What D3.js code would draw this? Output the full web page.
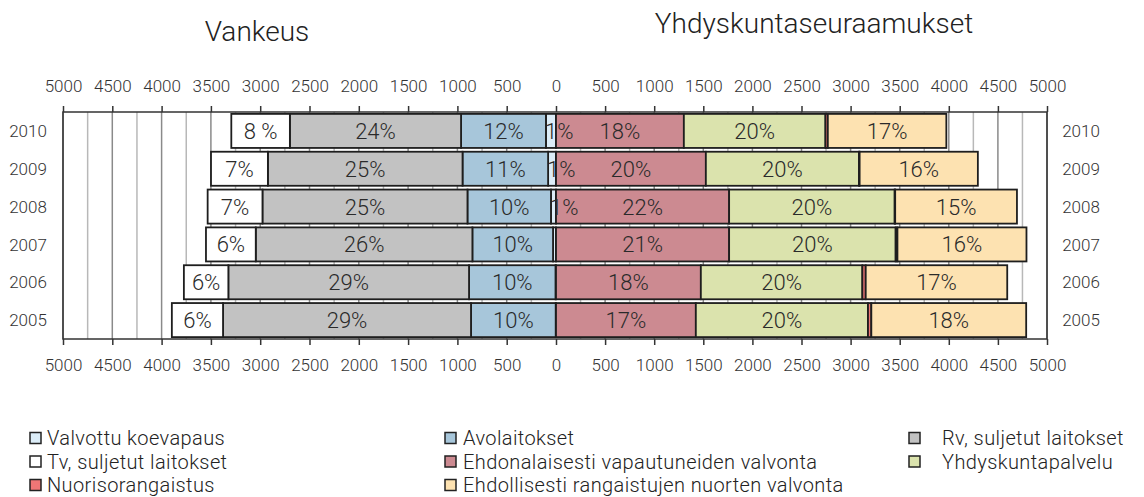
<!DOCTYPE html>
<html>
<head>
<meta charset="utf-8">
<script src="https://cdn.jsdelivr.net/npm/d3@7"></script>
<style>
  body { margin: 0; background: #fff; }
  text { font-family: Roboto, "DejaVu Sans", sans-serif; font-weight: 300; fill: #222; }
</style>
</head>
<body>
<div id="chart"></div>
<script>
// years, top row first
const years = [2010, 2009, 2008, 2007, 2006, 2005];

// Vankeus (left side, from 0 outward)
const valvottu = [102, 80, 51, 30, 5, 3];
const avo      = [861, 868, 847, 818, 877, 859];
const rv       = [1736, 1974, 2079, 2197, 2441, 2515];
const tv       = [594, 577, 556, 505, 451, 519];

// Yhdyskuntaseuraamukset (right side, from 0 outward)
const ehdon   = [1302, 1526, 1763, 1763, 1475, 1424];
const yhdys   = [1442, 1560, 1686, 1696, 1645, 1753];
const nuoriso = [24, 6, 5, 18, 34, 34];
const ehdoll  = [1207, 1204, 1240, 1314, 1441, 1577];

// printed percent labels
const valvottuLab = ["1%", "1%", "1%", "", "", ""];
const avoLab      = ["12%", "11%", "10%", "10%", "10%", "10%"];
const rvLab       = ["24%", "25%", "25%", "26%", "29%", "29%"];
const tvLab       = ["8 %", "7%", "7%", "6%", "6%", "6%"];
const ehdonLab    = ["18%", "20%", "22%", "21%", "18%", "17%"];
const yhdysLab    = ["20%", "20%", "20%", "20%", "20%", "20%"];
const nuorisoLab  = ["", "", "", "", "", ""];
const ehdollLab   = ["17%", "16%", "15%", "16%", "17%", "18%"];

const tickVals = [0, 500, 1000, 1500, 2000, 2500, 3000, 3500, 4000, 4500, 5000];

const leftSeries = [
  {key: "Valvottu koevapaus", vals: valvottu, labs: valvottuLab, color: "#dcedf8"},
  {key: "Avolaitokset", vals: avo, labs: avoLab, color: "#a7c6da"},
  {key: "Rv, suljetut laitokset", vals: rv, labs: rvLab, color: "#c2c2c2"},
  {key: "Tv, suljetut laitokset", vals: tv, labs: tvLab, color: "#ffffff"}
];
const rightSeries = [
  {key: "Ehdonalaisesti vapautuneiden valvonta", vals: ehdon, labs: ehdonLab, color: "#cc8a91"},
  {key: "Yhdyskuntapalvelu", vals: yhdys, labs: yhdysLab, color: "#dbe3ad"},
  {key: "Nuorisorangaistus", vals: nuoriso, labs: nuorisoLab, color: "#ef7676"},
  {key: "Ehdollisesti rangaistujen nuorten valvonta", vals: ehdoll, labs: ehdollLab, color: "#fde2b1"}
];

const width = 1144, height = 497;
const svg = d3.select("#chart").append("svg")
  .attr("width", width).attr("height", height);

const x0 = 556, plotTop = 112, plotBottom = 339;
const xL = d3.scaleLinear().domain([0, 5000]).range([x0, 63]);
const xR = d3.scaleLinear().domain([0, 5000]).range([x0, 1047]);
const y = d3.scaleBand().domain(years).range([plotTop, plotBottom])
  .paddingInner(0.1).paddingOuter(0.05);

// gridlines every 250
const gridVals = d3.range(250, 5001, 250);
const grid = svg.append("g");
[xL, xR].forEach(sc => {
  grid.selectAll(null).data(gridVals).enter().append("line")
    .attr("x1", d => sc(d)).attr("x2", d => sc(d))
    .attr("y1", plotTop).attr("y2", plotBottom)
    .attr("stroke", d => d % 500 === 0 ? "#8a8a8a" : "#b8b8b8")
    .attr("stroke-width", 1.5);
});

const barLayer = svg.append("g");
const labelLayer = svg.append("g");

// bars
function drawSide(series, sc) {
  const cum = years.map(() => 0);
  series.forEach(s => {
    const segs = years.map((yr, i) => {
      const a = cum[i], b = cum[i] + s.vals[i];
      cum[i] = b;
      return {yr: yr, a: a, b: b, lab: s.labs[i]};
    });
    barLayer.append("g").selectAll("rect").data(segs).enter().append("rect")
      .attr("x", d => Math.min(sc(d.a), sc(d.b)))
      .attr("width", d => Math.abs(sc(d.b) - sc(d.a)))
      .attr("y", d => y(d.yr))
      .attr("height", y.bandwidth())
      .attr("fill", s.color)
      .attr("stroke", "#1e1e1e")
      .attr("stroke-width", 1.8);

    labelLayer.append("g").selectAll("text").data(segs.filter(d => d.lab)).enter().append("text")
      .attr("x", d => {
        const w = Math.abs(sc(d.b) - sc(d.a));
        if (w < 30) return Math.min(sc(d.a), sc(d.b)) - 1;
        return (sc(d.a) + sc(d.b)) / 2;
      })
      .attr("text-anchor", d => Math.abs(sc(d.b) - sc(d.a)) < 30 ? "start" : "middle")
      .attr("y", d => y(d.yr) + y.bandwidth() / 2)
      .attr("dy", "0.36em")
      .style("font-size", "22px")
      .style("fill", "#2a2a2a")
      .text(d => d.lab);
  });
}
drawSide(leftSeries, xL);
drawSide(rightSeries, xR);

// frame
svg.append("rect")
  .attr("x", xL(5000)).attr("y", plotTop)
  .attr("width", xR(5000) - xL(5000)).attr("height", plotBottom - plotTop)
  .attr("fill", "none").attr("stroke", "#333").attr("stroke-width", 1.5);

// axes
const fmt = d3.format("d");
function axis(gen, sc, vals, yPos) {
  const g = svg.append("g").attr("transform", "translate(0," + yPos + ")")
    .call(gen(sc).tickValues(vals).tickFormat(fmt).tickSize(6).tickPadding(14));
  g.select(".domain").remove();
  g.selectAll(".tick line").attr("stroke", "#333").attr("stroke-width", 1.5);
  g.selectAll(".tick text").style("font-size", "17px").style("fill", "#333")
    .style("font-family", "Roboto, sans-serif");
}
axis(d3.axisTop, xL, tickVals.slice(1), plotTop);
axis(d3.axisTop, xR, tickVals, plotTop);
axis(d3.axisBottom, xL, tickVals.slice(1), plotBottom);
axis(d3.axisBottom, xR, tickVals, plotBottom);

// year labels
[28, 1081].forEach(px => {
  svg.append("g").selectAll("text").data(years).enter().append("text")
    .attr("x", px).attr("y", d => y(d) + y.bandwidth() / 2)
    .attr("dy", "0.36em").attr("text-anchor", "middle")
    .style("font-size", "17px").style("fill", "#333")
    .text(d => d);
});

// titles
svg.append("text").attr("x", 257).attr("y", 41).attr("text-anchor", "middle")
  .style("font-size", "28px").text("Vankeus");
svg.append("text").attr("x", 814).attr("y", 33).attr("text-anchor", "middle")
  .style("font-size", "28px").text("Yhdyskuntaseuraamukset");

// legend, 3 columns, row-wise
const legendItems = leftSeries.concat(rightSeries);
const colSq = [30, 445, 909], colTx = [47, 463, 942];
const legend = svg.append("g");
legendItems.forEach((s, i) => {
  const c = i % 3, r = Math.floor(i / 3);
  const cy = 438 + r * 23.5;
  legend.append("rect").attr("x", colSq[c]).attr("y", cy - 5.5)
    .attr("width", 11).attr("height", 11)
    .attr("fill", s.color).attr("stroke", "#222").attr("stroke-width", 1.5);
  legend.append("text").attr("x", colTx[c]).attr("y", cy).attr("dy", "0.36em")
    .style("font-size", "20px").style("letter-spacing", "0.4px").text(s.key);
});
</script>
</body>
</html>
